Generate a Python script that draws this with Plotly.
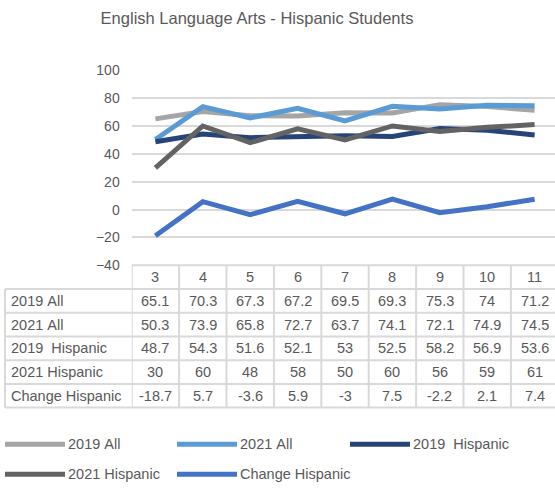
import plotly.graph_objects as go

W, H = 555, 493

grades = ["3", "4", "5", "6", "7", "8", "9", "10", "11"]
series_names = ["2019 All", "2021 All", "2019  Hispanic", "2021 Hispanic", "Change Hispanic"]
all_2019 = [65.1, 70.3, 67.3, 67.2, 69.5, 69.3, 75.3, 74, 71.2]
all_2021 = [50.3, 73.9, 65.8, 72.7, 63.7, 74.1, 72.1, 74.9, 74.5]
hisp_2019 = [48.7, 54.3, 51.6, 52.1, 53, 52.5, 58.2, 56.9, 53.6]
hisp_2021 = [30, 60, 48, 58, 50, 60, 56, 59, 61]
change_hisp = [-18.7, 5.7, -3.6, 5.9, -3, 7.5, -2.2, 2.1, 7.4]
y_ticks = [-40, -20, 0, 20, 40, 60, 80, 100]

series_values = [all_2019, all_2021, hisp_2019, hisp_2021, change_hisp]
colors = ["#a5a5a5", "#5b9bd5", "#264478", "#636363", "#4472c4"]
text_color = "#595959"
grid_color = "#d9d9d9"
font_family = "Liberation Sans, Arial, sans-serif"


def px(x):
    return x / W


def py(y):
    return 1 - y / H


fig = go.Figure()

for name, vals, col in zip(series_names, series_values, colors):
    fig.add_trace(go.Scatter(
        x=grades, y=vals, name=name, mode="lines",
        line=dict(color=col, width=5),
        showlegend=False, hoverinfo="skip"
    ))

# data table under the chart
row_lines = [266, 290.5, 315, 339.5, 364, 388.5, 413]
shapes = []
# header top line (only over the data columns)
shapes.append(dict(type="line", xref="paper", yref="paper",
                   x0=px(131.7), x1=1, y0=py(266), y1=py(266),
                   line=dict(color=grid_color, width=2)))
for yl in row_lines[1:]:
    shapes.append(dict(type="line", xref="paper", yref="paper",
                       x0=px(5), x1=1, y0=py(yl), y1=py(yl),
                       line=dict(color=grid_color, width=2)))
shapes.append(dict(type="line", xref="paper", yref="paper",
                   x0=px(5), x1=px(5), y0=py(290.5), y1=py(413),
                   line=dict(color=grid_color, width=2)))
for i in range(len(grades)):
    shapes.append(dict(type="line", xref="x", yref="paper",
                       x0=i - 0.5, x1=i - 0.5, y0=py(266), y1=py(413),
                       line=dict(color=grid_color, width=2)))

annotations = []
table_font = dict(family=font_family, size=14.5, color=text_color)
header_y = (row_lines[0] + row_lines[1]) / 2
for i, g in enumerate(grades):
    annotations.append(dict(x=i, y=py(header_y), xref="x", yref="paper",
                            text=g, showarrow=False, font=table_font,
                            xanchor="center", yanchor="middle"))
for r, (name, vals) in enumerate(zip(series_names, series_values)):
    yc = (row_lines[r + 1] + row_lines[r + 2]) / 2
    annotations.append(dict(x=px(9), y=py(yc), xref="paper", yref="paper",
                            text=name.replace(" ", "&nbsp;"), showarrow=False,
                            font=table_font, xanchor="left", yanchor="middle"))
    for i, v in enumerate(vals):
        annotations.append(dict(x=i, y=py(yc), xref="x", yref="paper",
                                text=f"{v:g}", showarrow=False, font=table_font,
                                xanchor="center", yanchor="middle"))

# legend, laid out as in the original
legend_pos = [(5, 451), (177, 451), (350, 451), (5, 482), (177, 482)]
for (lx, ly), name, col in zip(legend_pos, series_names, colors):
    shapes.append(dict(type="line", xref="paper", yref="paper",
                       x0=px(lx), x1=px(lx + 60), y0=py(ly), y1=py(ly),
                       line=dict(color=col, width=5)))
    annotations.append(dict(x=px(lx + 61), y=py(ly), xref="paper", yref="paper",
                            text=name.replace(" ", "&nbsp;"), showarrow=False,
                            font=dict(family=font_family, size=14.5, color=text_color),
                            xanchor="left", yanchor="middle"))

fig.update_layout(
    width=W, height=H,
    margin=dict(l=0, r=0, t=0, b=0),
    paper_bgcolor="white", plot_bgcolor="white",
    title=dict(text="English Language Arts - Hispanic Students",
               x=px(257), y=py(18.5), xanchor="center", yanchor="middle",
               font=dict(family=font_family, size=16.5, color=text_color)),
    xaxis=dict(domain=[px(131.7), 1], range=[-0.5, 8.43], type="category",
               showticklabels=False, showgrid=False, zeroline=False, fixedrange=True),
    yaxis=dict(domain=[py(266), py(64.3)], range=[-40, 100], tickvals=y_ticks,
               showgrid=True, gridcolor=grid_color, gridwidth=2, zeroline=False,
               ticklabelstandoff=11, fixedrange=True,
               tickfont=dict(family=font_family, size=14, color=text_color)),
    shapes=shapes,
    annotations=annotations,
    showlegend=False,
)

# drop the default 8px body margin so the figure sits at the page corner
fig.write_html("out.html", config={"displayModeBar": False},
               post_script="document.body.style.margin='0';")
